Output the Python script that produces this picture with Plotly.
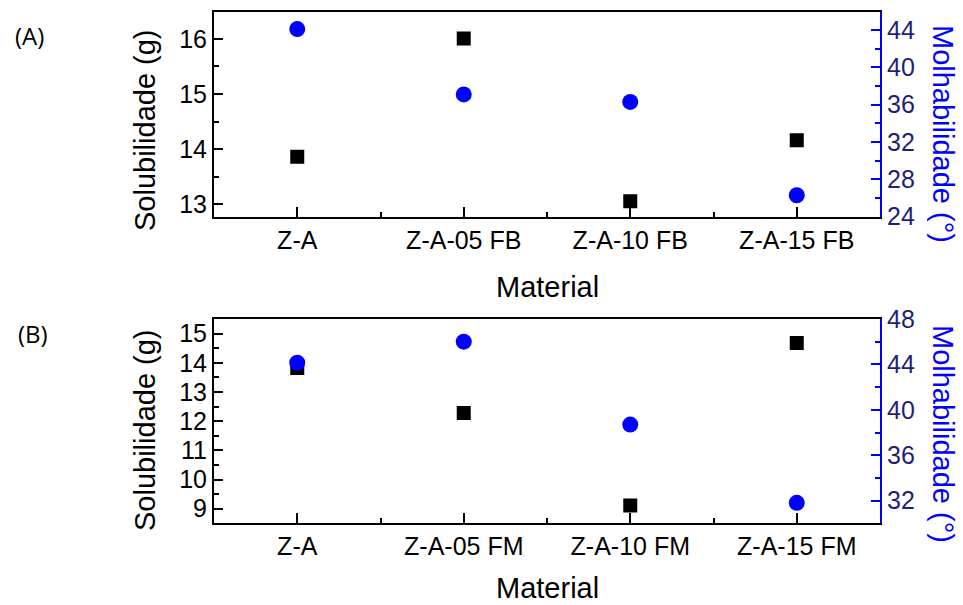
import plotly.graph_objects as go

# Materials for each panel
materials_fb = ["Z-A", "Z-A-05 FB", "Z-A-10 FB", "Z-A-15 FB"]
materials_fm = ["Z-A", "Z-A-05 FM", "Z-A-10 FM", "Z-A-15 FM"]

# Solubility (g) and wettability (degrees)
solub_fb = [13.86, 16.01, 13.05, 14.16]
molhab_fb = [44.1, 37.1, 36.3, 26.3]
solub_fm = [13.82, 12.28, 9.11, 14.68]
molhab_fm = [44.15, 46.0, 38.7, 31.8]

W, H = 963, 605
X0, X1 = 214, 880          # plot box left/right (px)
TOP_A, BOT_A = 12, 216.7   # panel A top/bottom (px)
TOP_B, BOT_B = 319, 523.3  # panel B top/bottom (px)

BLUE = "#0000ff"
NAVY = "#1f1f78"
FONT = "Liberation Sans, Arial, sans-serif"


def px_x(v):
    return v / W


def px_y(v):
    return 1 - v / H


fig = go.Figure()

pos_fb = list(range(len(materials_fb)))
pos_fm = list(range(len(materials_fm)))

sq = dict(symbol="square", size=14, color="black")
ci = dict(symbol="circle", size=16, color=BLUE)

fig.add_trace(go.Scatter(x=pos_fb, y=solub_fb, mode="markers", marker=sq,
                         xaxis="x", yaxis="y", showlegend=False))
fig.add_trace(go.Scatter(x=pos_fb, y=molhab_fb, mode="markers", marker=ci,
                         xaxis="x", yaxis="y2", showlegend=False))
fig.add_trace(go.Scatter(x=pos_fm, y=solub_fm, mode="markers", marker=sq,
                         xaxis="x2", yaxis="y3", showlegend=False))
fig.add_trace(go.Scatter(x=pos_fm, y=molhab_fm, mode="markers", marker=ci,
                         xaxis="x2", yaxis="y4", showlegend=False))

xdom = [px_x(X0), px_x(X1)]


def xaxis_cfg(anchor, labels):
    return dict(
        domain=xdom, anchor=anchor, range=[-0.5, 3.5], automargin=False,
        tickmode="array", tickvals=list(range(len(labels))), ticktext=labels,
        ticks="inside", ticklen=10, tickwidth=2, tickcolor="black",
        minor=dict(tickvals=[0.5, 1.5, 2.5], ticks="inside", ticklen=5,
                   tickwidth=1.5, tickcolor="black"),
        showline=True, linecolor="black", linewidth=2, mirror=True,
        showgrid=False, zeroline=False,
        tickfont=dict(family=FONT, size=25, color="black"),
    )


def yleft_cfg(anchor, dom, rng):
    return dict(
        domain=dom, anchor=anchor, range=rng, dtick=1, automargin=False,
        ticks="inside", ticklen=9, tickwidth=2, tickcolor="black",
        minor=dict(dtick=0.5, ticks="inside", ticklen=5, tickwidth=1.5,
                   tickcolor="black"),
        showline=True, linecolor="black", linewidth=2,
        showgrid=False, zeroline=False,
        tickfont=dict(family=FONT, size=25, color="black"),
    )


def yright_cfg(anchor, overlay, rng):
    return dict(
        overlaying=overlay, anchor=anchor, side="right", range=rng,
        tick0=0, dtick=4, automargin=False,
        ticks="inside", ticklen=9, tickwidth=2, tickcolor=BLUE,
        minor=dict(dtick=2, ticks="inside", ticklen=5, tickwidth=1.5,
                   tickcolor=BLUE),
        showline=True, linecolor=BLUE, linewidth=2,
        showgrid=False, zeroline=False,
        tickfont=dict(family=FONT, size=25, color=NAVY),
    )


dom_a = [px_y(BOT_A), px_y(TOP_A)]
dom_b = [px_y(BOT_B), px_y(TOP_B)]

fig.update_layout(
    width=W, height=H,
    margin=dict(l=0, r=0, t=0, b=0, autoexpand=False),
    paper_bgcolor="white", plot_bgcolor="white",
    xaxis=xaxis_cfg("y", materials_fb),
    yaxis=yleft_cfg("x", dom_a, [12.77, 16.49]),
    yaxis2=yright_cfg("x", "y", [24, 45.93]),
    xaxis2=xaxis_cfg("y3", materials_fm),
    yaxis3=yleft_cfg("x2", dom_b, [8.5, 15.5]),
    yaxis4=yright_cfg("x2", "y3", [30, 48]),
)

title_font = dict(family=FONT, size=29, color="black")
ann = []
for cy, mat_y, lab, lab_xy in [(130, 287, "(A)", (29, 36)),
                               (430, 588, "(B)", (33, 333))]:
    ann.append(dict(text="Solubilidade (g)", x=px_x(145), y=px_y(cy),
                    xref="paper", yref="paper", textangle=-90,
                    showarrow=False, font=title_font,
                    xanchor="center", yanchor="middle"))
    ann.append(dict(text="Molhabilidade (°)", x=px_x(943), y=px_y(cy + 4),
                    xref="paper", yref="paper", textangle=90,
                    showarrow=False, font=dict(family=FONT, size=29, color=BLUE),
                    xanchor="center", yanchor="middle"))
    ann.append(dict(text="Material", x=px_x(547), y=px_y(mat_y),
                    xref="paper", yref="paper", showarrow=False,
                    font=title_font, xanchor="center", yanchor="middle"))
    ann.append(dict(text=lab, x=px_x(lab_xy[0]), y=px_y(lab_xy[1]),
                    xref="paper", yref="paper", showarrow=False,
                    font=dict(family="Open Sans, sans-serif", size=24,
                              color="black"),
                    xanchor="center", yanchor="middle"))
fig.update_layout(annotations=ann)

fig.write_html("out.html")
